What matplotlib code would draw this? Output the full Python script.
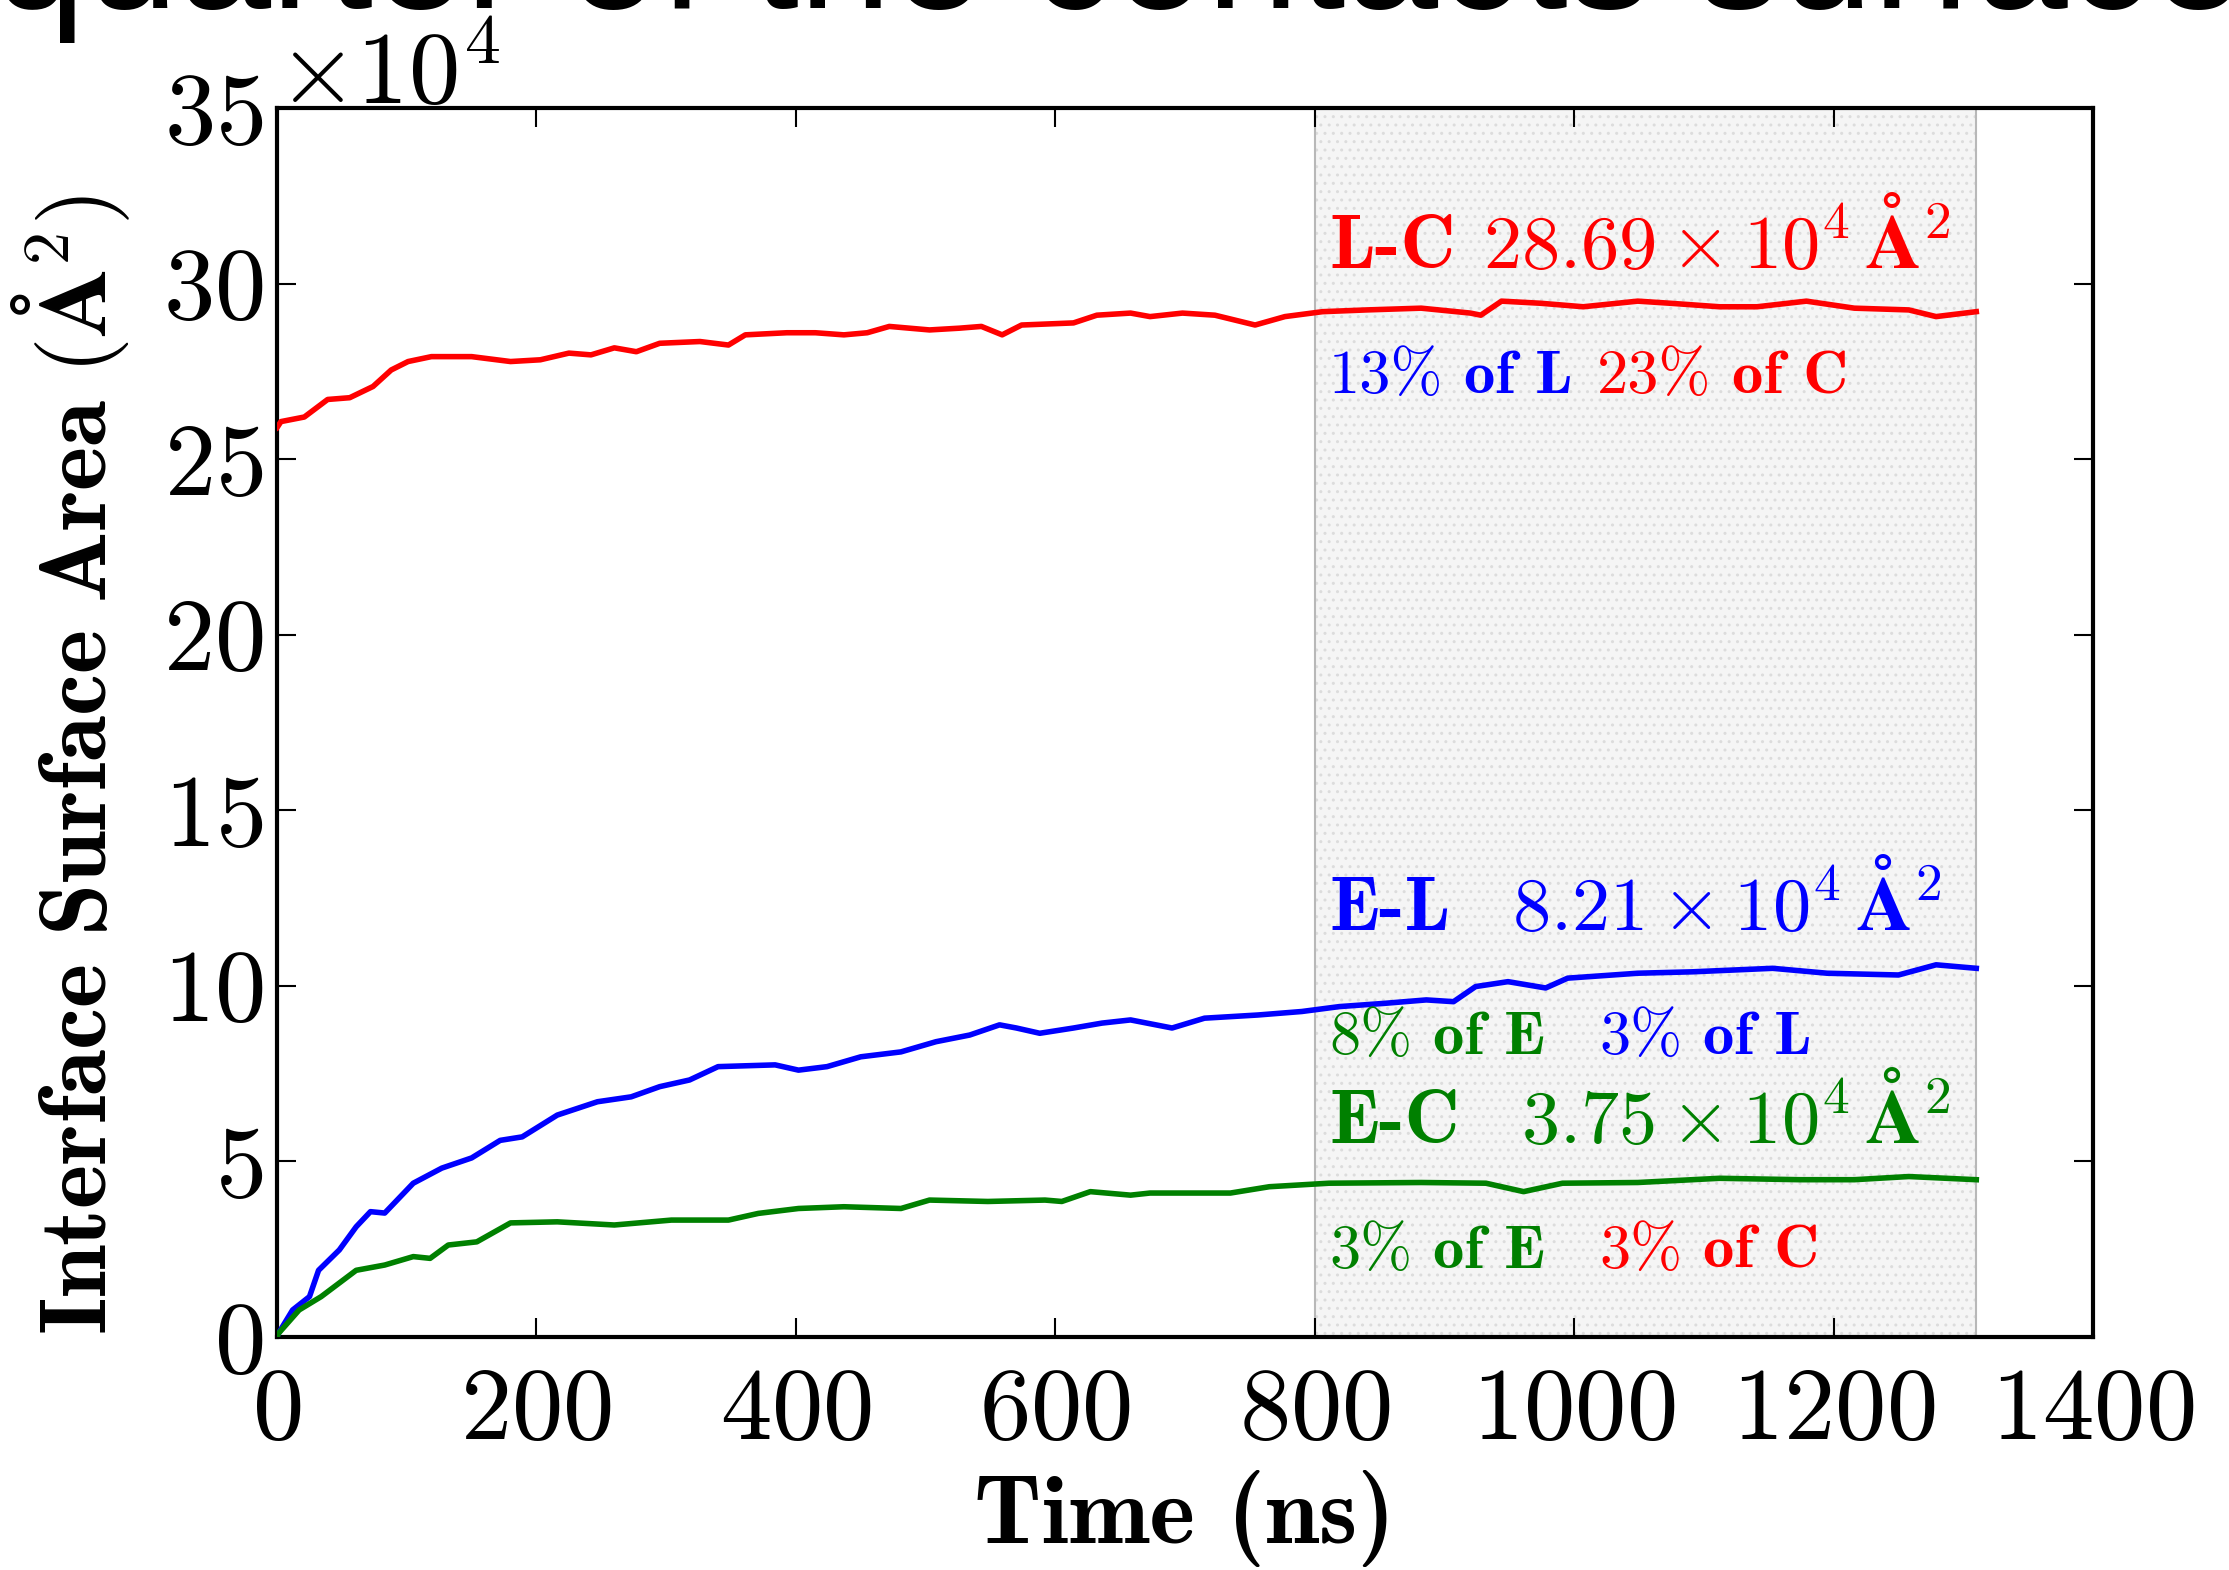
import numpy as np
import matplotlib
matplotlib.use('Agg')
import matplotlib.pyplot as plt

plt.rcParams['font.family'] = 'cmr10'
plt.rcParams['mathtext.fontset'] = 'cm'
plt.rcParams['axes.formatter.use_mathtext'] = True
plt.rcParams['axes.unicode_minus'] = False

# interface surface area, units of 1e4 A^2
t_lc = [0, 3, 21, 39, 56, 74, 88, 101, 119, 150, 180, 203, 225, 242, 260, 277, 295, 326, 348, 361,
        393, 415, 437, 455, 472, 503, 526, 543, 559, 574, 614, 632, 658, 673, 698, 723, 754, 777, 806,
        840, 882, 920, 928, 944, 974, 1007, 1049, 1074, 1112, 1141, 1179, 1216, 1258, 1279, 1310]
a_lc = [25.9, 26.07, 26.2, 26.7, 26.75, 27.07, 27.54, 27.78, 27.92, 27.92, 27.78, 27.83, 28.02, 27.97,
        28.17, 28.06, 28.3, 28.35, 28.25, 28.54, 28.6, 28.6, 28.54, 28.6, 28.78, 28.68, 28.73, 28.78,
        28.54, 28.82, 28.88, 29.1, 29.16, 29.06, 29.16, 29.1, 28.82, 29.06, 29.2, 29.25, 29.3, 29.16,
        29.1, 29.5, 29.44, 29.34, 29.5, 29.44, 29.34, 29.34, 29.5, 29.3, 29.25, 29.06, 29.2]

t_el = [0, 1, 12, 25, 32, 48, 61, 72, 83, 105, 127, 150, 172, 189, 216, 247, 273, 295, 318, 340, 384,
        402, 424, 450, 481, 508, 534, 557, 570, 588, 614, 636, 658, 690, 715, 756, 790, 819, 853, 886,
        907, 924, 949, 978, 995, 1049, 1091, 1153, 1195, 1250, 1279, 1310]
a_el = [0, 0.1, 0.77, 1.15, 1.9, 2.48, 3.14, 3.57, 3.53, 4.38, 4.81, 5.1, 5.6, 5.7, 6.32, 6.7, 6.84,
        7.13, 7.32, 7.7, 7.75, 7.6, 7.7, 7.98, 8.12, 8.41, 8.6, 8.89, 8.8, 8.65, 8.8, 8.94, 9.03, 8.8,
        9.08, 9.17, 9.27, 9.41, 9.5, 9.6, 9.55, 9.98, 10.12, 9.94, 10.22, 10.36, 10.4, 10.5, 10.36,
        10.31, 10.6, 10.5]

t_ec = [0, 1, 17, 34, 61, 83, 105, 118, 132, 154, 180, 216, 260, 304, 348, 371, 402, 437, 481, 503,
        548, 592, 605, 627, 658, 673, 735, 765, 811, 882, 932, 961, 991, 1049, 1112, 1174, 1216, 1258, 1310]
a_ec = [0, 0.1, 0.77, 1.15, 1.9, 2.05, 2.29, 2.24, 2.62, 2.71, 3.25, 3.28, 3.19, 3.33, 3.33, 3.52,
        3.66, 3.71, 3.66, 3.9, 3.86, 3.9, 3.86, 4.14, 4.04, 4.1, 4.1, 4.28, 4.38, 4.4, 4.38, 4.14,
        4.38, 4.4, 4.52, 4.48, 4.48, 4.57, 4.48]

avg_start, avg_end = 800, 1310

red, blue, green = '#ff0000', '#0000ff', '#008000'

fig = plt.figure(figsize=(22.29, 15.70), dpi=100)
ax = fig.add_axes([0.1243, 0.1484, 0.8147, 0.7828])

ax.axvspan(avg_start, avg_end, facecolor='#f5f5f5', edgecolor='#dcdcdc', hatch='..', linewidth=0, zorder=0)
ax.axvline(avg_start, color='#b8b8b8', lw=1.5, zorder=1)
ax.axvline(avg_end, color='#b8b8b8', lw=1.5, zorder=1)

ax.plot(t_lc, np.array(a_lc) * 1e4, color=red, lw=4, zorder=3)
ax.plot(t_el, np.array(a_el) * 1e4, color=blue, lw=4, zorder=3)
ax.plot(t_ec, np.array(a_ec) * 1e4, color=green, lw=4, zorder=3)

ax.set_xlim(0, 1400)
ax.set_ylim(0, 35e4)
ax.set_xticks(np.arange(0, 1401, 200))
ax.set_yticks(np.arange(0, 35.1e4, 5e4))
ax.ticklabel_format(axis='y', style='sci', scilimits=(4, 4), useMathText=True)
ax.yaxis.get_offset_text().set_fontsize(74)

ax.tick_params(direction='in', length=14, width=1.5, top=True, right=True, labelsize=74)
ax.tick_params(axis='x', pad=22)
ax.tick_params(axis='y', pad=10)
for s in ax.spines.values():
    s.set_linewidth(3)

ax.set_xlabel('Time (ns)', family='cmb10', fontsize=70, va='baseline')
ax.xaxis.set_label_coords(0.5, -0.168)
ax.set_ylabel(r'$\mathbf{Interface\ Surface\ Area\ (Å}^{2}\mathbf{)}$', fontsize=68)
ax.yaxis.set_label_coords(-0.08, 0.465)


def put_line(x0, y0, pieces, size):
    prev = None
    for txt, col, fam, gap in pieces:
        if prev is None:
            prev = ax.text(x0, y0, txt, color=col, family=fam, fontsize=size,
                           va='baseline', ha='left', zorder=5)
        else:
            prev = ax.annotate(txt, xy=(1, y0), xycoords=(prev, 'data'), xytext=(gap, 0),
                               textcoords='offset points', color=col, family=fam,
                               fontsize=size, va='baseline', ha='left', zorder=5)


big, small = 55, 45
put_line(811, 30.45e4, [('L-C', red, 'cmb10', 0),
                        (r'$28.69\times10^{4}\,\mathbf{Å}^{2}$', red, 'cmr10', 20)], big)
put_line(811, 26.88e4, [('13%', blue, 'cmr10', 0), ('of L', blue, 'cmb10', 15),
                        ('23%', red, 'cmr10', 17), ('of C', red, 'cmb10', 15)], small)
put_line(811, 11.59e4, [('E-L', blue, 'cmb10', 0),
                        (r'$8.21\times10^{4}\,\mathbf{Å}^{2}$', blue, 'cmr10', 44)], big)
put_line(811, 8.06e4, [('8%', green, 'cmr10', 0), ('of E', green, 'cmb10', 15),
                       ('3%', blue, 'cmr10', 39), ('of L', blue, 'cmb10', 15)], small)
put_line(811, 5.53e4, [('E-C', green, 'cmb10', 0),
                       (r'$3.75\times10^{4}\,\mathbf{Å}^{2}$', green, 'cmr10', 44)], big)
put_line(811, 1.97e4, [('3%', green, 'cmr10', 0), ('of E', green, 'cmb10', 15),
                       ('3%', red, 'cmr10', 39), ('of C', red, 'cmb10', 15)], small)

# clipped caption line at the very top of the source image
fig.text(-0.003, 0.9949, 'quarter of the contacts surface', family='Liberation Sans',
         fontsize=120, va='baseline', ha='left')

fig.savefig('out.png', dpi=100)
